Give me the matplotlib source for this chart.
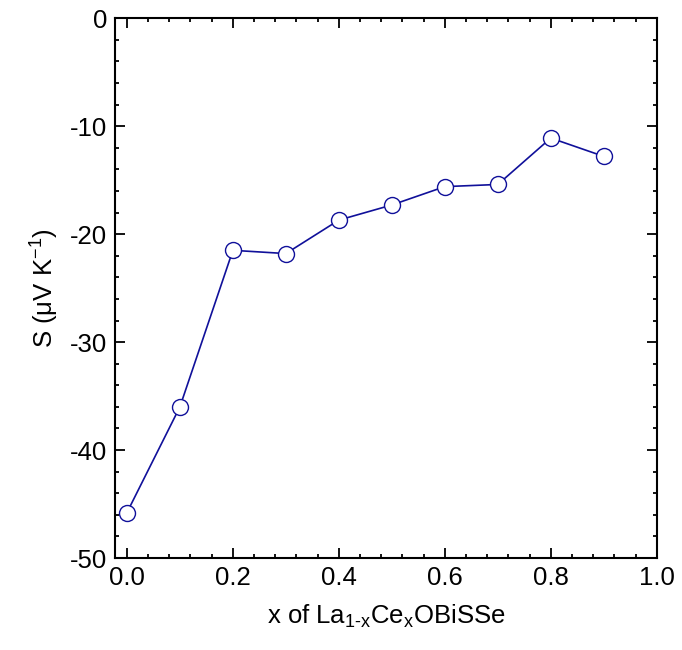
import matplotlib
matplotlib.use("Agg")
import matplotlib.pyplot as plt
from matplotlib.ticker import MultipleLocator

plt.rcParams['font.family'] = ['Liberation Sans', 'DejaVu Sans']
plt.rcParams['mathtext.fontset'] = 'custom'
plt.rcParams['mathtext.rm'] = 'Liberation Sans'
plt.rcParams['mathtext.it'] = 'Liberation Sans'
plt.rcParams['mathtext.default'] = 'regular'
plt.rcParams['axes.unicode_minus'] = False

# Ce content x and Seebeck coefficient
x_ce = [0.0, 0.1, 0.2, 0.3, 0.4, 0.5, 0.6, 0.7, 0.8, 0.9]
seebeck = [-45.8, -36.0, -21.5, -21.8, -18.7, -17.3, -15.6, -15.4, -11.1, -12.8]

fig = plt.figure(figsize=(6.82, 6.5), dpi=100)
ax = fig.add_axes([0.169, 0.1415, 0.794, 0.8305])

ax.plot(x_ce, seebeck, color="#10109a", lw=1.2, marker="o", ms=11.5,
        mfc="white", mec="#10109a", mew=1.0)

ax.set_xlim(-0.022, 1.0)
ax.set_ylim(-50, 0)
ax.xaxis.set_major_locator(MultipleLocator(0.2))
ax.xaxis.set_minor_locator(MultipleLocator(0.04))
ax.yaxis.set_major_locator(MultipleLocator(10))
ax.yaxis.set_minor_locator(MultipleLocator(2))
ax.xaxis.set_major_formatter(plt.FormatStrFormatter("%.1f"))

ax.tick_params(which="both", direction="in", top=True, right=True, labelsize=18.5, width=1.3)
ax.tick_params(which="major", length=7, pad=6)
ax.tick_params(which="minor", length=3)
for s in ax.spines.values():
    s.set_linewidth(1.5)

ax.set_xlabel(r"x of La$_{1\text{-}x}$Ce$_x$OBiSSe", fontsize=18.5, labelpad=9)
ax.set_ylabel(r"S ($\mu$V K$^{-1}$)", fontsize=18.5, labelpad=6)

fig.savefig("out.png", dpi=100)
